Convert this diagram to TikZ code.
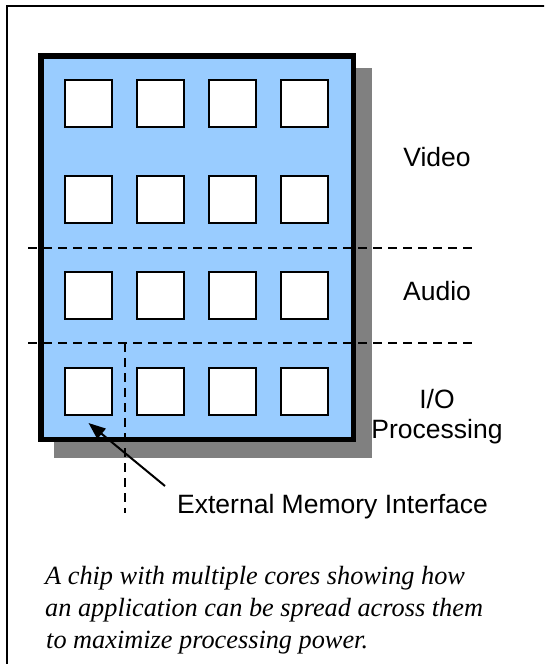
\documentclass[tikz,border=0pt]{standalone}
\usepackage{fontspec}
\setmainfont{Liberation Sans}
\newfontfamily\capfont{Liberation Serif}
\usetikzlibrary{arrows.meta}
\definecolor{chipblue}{HTML}{99CCFF}
\definecolor{shadowgray}{HTML}{808080}
\begin{document}
\begin{tikzpicture}[x=1pt,y=-1pt,
  core/.style={draw=black,fill=white,line width=2pt,minimum width=47pt,minimum height=47pt,inner sep=0pt},
  region/.style={font=\fontsize{26.5}{30}\selectfont,align=center,inner sep=0pt},
  divider/.style={dash pattern=on 9pt off 6pt,line width=2pt},
  captionline/.style={font=\capfont\itshape\fontsize{26.3}{32}\selectfont,anchor=base west,inner sep=0pt},
  pointer/.style={line width=2pt,-{Triangle[length=17pt,width=13pt]}}]
\useasboundingbox (0,0) rectangle (544,664);
\clip (0,0) rectangle (544,664);
% outer frame
\draw[line width=2.5pt] (7,6) rectangle (620,720);
% shadow and chip
\fill[shadowgray] (54,68) rectangle (372,458);
\node[draw=black,fill=chipblue,line width=5.5pt,minimum width=312.5pt,minimum height=383.5pt,inner sep=0pt] (chip) at (197,247.5) {};
% cores
\foreach \r/\y in {1/103.5,2/199.5,3/295.5,4/391.5}{
  \foreach \c/\x in {1/88.5,2/160.5,3/232.5,4/304.5}{
    \node[core] (c\r\c) at (\x,\y) {};
  }
}
% dividers
\coordinate (d1l) at (28,247.5);
\coordinate (d1r) at (473,247.5);
\coordinate (d2l) at (28,343);
\coordinate (d2r) at (473,343);
\coordinate (vtop) at (125,343);
\coordinate (vbot) at (125,513);
\draw[divider] (d1l) -- (d1r);
\draw[divider] (d2l) -- (d2r);
\draw[divider] (vtop) -- (vbot);
% labels
\node[region] (video) at (437,157) {Video};
\node[region] (audio) at (437,291) {Audio};
\node[region] (io) at (437,417) {I/O\\Processing};
\node[region,anchor=base west] (emi) at (177,513) {External Memory Interface};
% pointer
\coordinate (pstart) at (165,486);
\draw[pointer] (pstart) -- ([yshift=-7pt]c41.south);
% caption
\node[captionline] (cap1) at (45,584) {A chip with multiple cores showing how};
\node[captionline] (cap2) at (45,616) {an application can be spread across them};
\node[captionline] (cap3) at (46,648) {to maximize processing power.};
\end{tikzpicture}
\end{document}
